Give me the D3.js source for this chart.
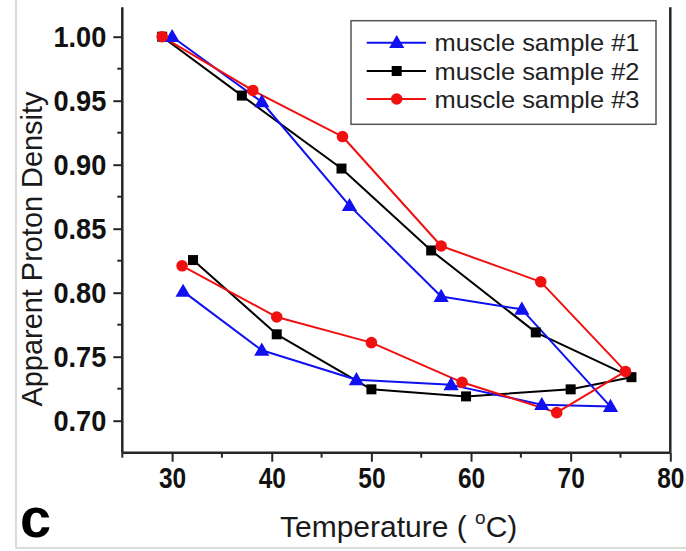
<!DOCTYPE html>
<html><head><meta charset="utf-8">
<script src="https://cdn.jsdelivr.net/npm/d3@7"></script>
<style>body{margin:0;background:#fff}svg{display:block}</style>
</head><body>
<svg id="c" width="686" height="551"></svg>
<script>
// ---- data ----
const seriesNames = ["muscle sample #1", "muscle sample #2", "muscle sample #3"];
const s1Temp = [30, 39, 47.8, 57, 65.1, 74, 67.1, 58, 48.5, 39, 31.1];
const s1Val  = [1.000, 0.949, 0.868, 0.797, 0.787, 0.711, 0.7125, 0.728, 0.732, 0.755, 0.801];
const s2Temp = [29, 37, 47, 56, 66.5, 76.1, 70, 59.5, 50, 40.5, 32.1];
const s2Val  = [1.000, 0.954, 0.897, 0.833, 0.769, 0.734, 0.7245, 0.719, 0.7245, 0.7675, 0.8255];
const s3Temp = [29, 38.1, 47.1, 57, 67, 75.5, 68.6, 59.1, 50, 40.5, 31];
const s3Val  = [1.000, 0.958, 0.922, 0.8365, 0.8085, 0.7385, 0.7063, 0.730, 0.761, 0.781, 0.821];
const xTicks = [30, 40, 50, 60, 70, 80];
const yTicks = [0.70, 0.75, 0.80, 0.85, 0.90, 0.95, 1.00];

const colors = ["#1010f0", "#000000", "#f01010"];
const shapes = [d3.symbolTriangle, d3.symbolSquare, d3.symbolCircle];
const sizes = [100, 100, 105];

const svg = d3.select("#c");
const x = d3.scaleLinear().domain([25, 80]).range([122.3, 670.3]);
const y = d3.scaleLinear().domain([0.70, 1.00]).range([420.7, 36.7]);
const yTop = 1.023, yBot = 0.675;

// figure border (left & bottom, light grey)
svg.append("path").attr("d", "M16,0 V548 H686").attr("fill", "none").attr("stroke", "#d0d0d0").attr("stroke-width", 1.5);

const axisColor = "#262626";
const tickFont = "'Liberation Sans',Arial,sans-serif";
const yLabelWidth = s => s.split("").reduce((a, ch) => a + (ch === "." ? 7 : 15.3), 0);
const xLabelWidth = s => s.length * 13.6;

// y axis
const yAx = svg.append("g").attr("transform", `translate(${x(25)},0)`)
  .call(d3.axisLeft(y).tickValues(yTicks).tickFormat(d3.format(".2f")).tickSize(9).tickPadding(7).tickSizeOuter(0));
yAx.select(".domain").remove();
yAx.append("line").attr("x1", 0).attr("x2", 0).attr("y1", y(yTop)).attr("y2", y(yBot)).attr("stroke", axisColor).attr("stroke-width", 2.5);
const yMinor = d3.range(0.725, 1.0, 0.05);
yAx.selectAll(".minor").data(yMinor).enter().append("line")
  .attr("x1", 0).attr("x2", -5).attr("y1", d => y(d)).attr("y2", d => y(d)).attr("stroke", axisColor).attr("stroke-width", 2);
yAx.selectAll(".tick line").attr("stroke", axisColor).attr("stroke-width", 2);
yAx.selectAll(".tick text").attr("font-family", tickFont).attr("font-weight", "bold").attr("font-size", 30).attr("fill", "#111")
  .attr("textLength", function() { return yLabelWidth(this.textContent); }).attr("lengthAdjust", "spacingAndGlyphs");

// x axis
const xAx = svg.append("g").attr("transform", `translate(0,${y(yBot)})`)
  .call(d3.axisBottom(x).tickValues(xTicks).tickFormat(d3.format("d")).tickSize(9).tickPadding(5).tickSizeOuter(0));
xAx.select(".domain").remove();
xAx.append("line").attr("x1", x(25)).attr("x2", x(80)).attr("y1", 0).attr("y2", 0).attr("stroke", axisColor).attr("stroke-width", 2.5);
const xMinor = d3.range(25, 80, 10);
xAx.selectAll(".minor").data(xMinor).enter().append("line")
  .attr("x1", d => x(d)).attr("x2", d => x(d)).attr("y1", 0).attr("y2", 5).attr("stroke", axisColor).attr("stroke-width", 2);
xAx.selectAll(".tick line").attr("stroke", axisColor).attr("stroke-width", 2);
xAx.selectAll(".tick text").attr("font-family", tickFont).attr("font-weight", "bold").attr("font-size", 30).attr("fill", "#111")
  .attr("textLength", function() { return xLabelWidth(this.textContent); }).attr("lengthAdjust", "spacingAndGlyphs");

// right frame line
svg.append("line").attr("x1", x(80)).attr("x2", x(80)).attr("y1", y(yTop)).attr("y2", y(yBot)).attr("stroke", axisColor).attr("stroke-width", 2.5);

// series
const data = [
  s1Temp.map((t, i) => [t, s1Val[i]]),
  s2Temp.map((t, i) => [t, s2Val[i]]),
  s3Temp.map((t, i) => [t, s3Val[i]])
];
const line = d3.line().x(d => x(d[0])).y(d => y(d[1]));
const order = [1, 0, 2];
order.forEach(k => {
  svg.append("path").datum(data[k]).attr("d", line).attr("fill", "none")
    .attr("stroke", colors[k]).attr("stroke-width", 2).attr("stroke-linejoin", "round");
});
order.forEach(k => {
  svg.append("g").selectAll("path").data(data[k]).enter().append("path")
    .attr("d", d3.symbol().type(shapes[k]).size(sizes[k]))
    .attr("transform", d => `translate(${x(d[0])},${y(d[1]) + (k === 0 ? 1 : 0)})`)
    .attr("fill", colors[k]);
});

// legend
const lg = svg.append("g");
lg.append("rect").attr("x", 351).attr("y", 20.7).attr("width", 305).attr("height", 103.6)
  .attr("fill", "#fff").attr("stroke", "#555").attr("stroke-width", 1.5);
const rowY = [42.7, 71, 99];
seriesNames.forEach((n, i) => {
  lg.append("line").attr("x1", 366.7).attr("x2", 426).attr("y1", rowY[i]).attr("y2", rowY[i])
    .attr("stroke", colors[i]).attr("stroke-width", 2);
  lg.append("path").attr("d", d3.symbol().type(shapes[i]).size(sizes[i]))
    .attr("transform", `translate(396.7,${rowY[i] + (i === 0 ? 1 : 0)})`).attr("fill", colors[i]);
  lg.append("text").attr("x", 434.5).attr("y", rowY[i]).attr("dy", "0.36em")
    .attr("font-family", "'Liberation Sans',Arial,sans-serif").attr("font-size", 24)
    .attr("textLength", 205).attr("lengthAdjust", "spacingAndGlyphs")
    .attr("fill", "#222").text(n);
});

// axis titles
svg.append("text").attr("transform", "translate(42,249) rotate(-90)").attr("text-anchor", "middle")
  .attr("font-family", "'Liberation Sans',Arial,sans-serif").attr("font-size", 29)
  .attr("textLength", 315).attr("lengthAdjust", "spacingAndGlyphs")
  .attr("fill", "#1a1a1a").text("Apparent Proton Density");

const xt = svg.append("text").attr("x", 280).attr("y", 537)
  .attr("font-family", "'Liberation Sans',Arial,sans-serif").attr("font-size", 30).attr("fill", "#1a1a1a");
xt.append("tspan").text("Temperature ( ");
xt.append("tspan").attr("font-size", 19).attr("dy", -13).text("o");
xt.append("tspan").attr("dy", 13).text("C)");

// panel label
svg.append("text").attr("x", 20).attr("y", 537).attr("font-family", "'Liberation Sans',Arial,sans-serif")
  .attr("font-weight", "bold").attr("font-size", 56).attr("fill", "#000").text("c");
</script>
</body></html>
